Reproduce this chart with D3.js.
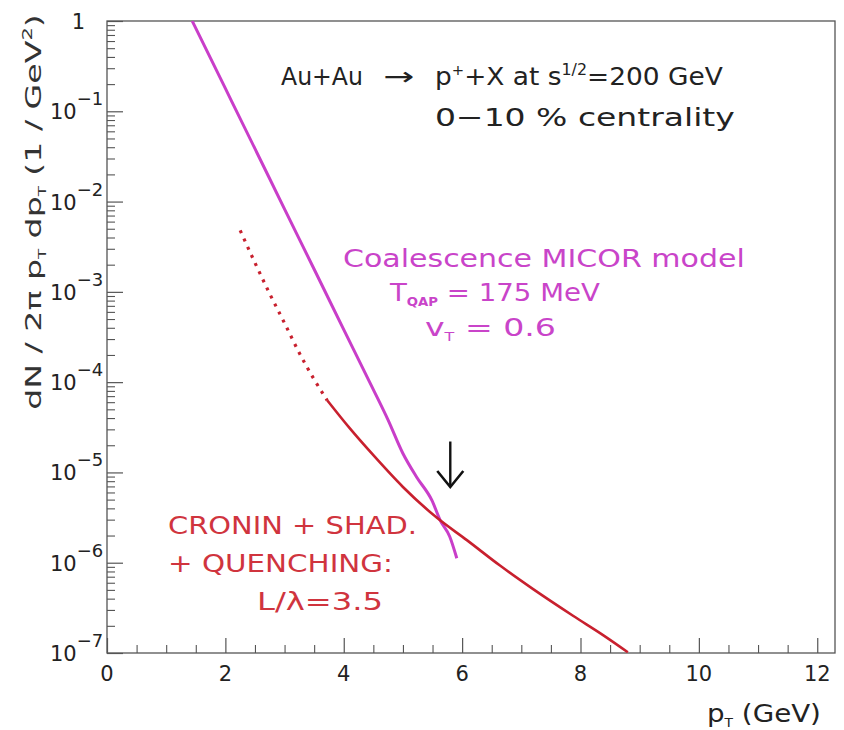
<!DOCTYPE html>
<html><head><meta charset="utf-8">
<script src="https://cdn.jsdelivr.net/npm/d3@7"></script>
<style>html,body{margin:0;padding:0;background:#fff;} svg{display:block;}</style>
</head><body>
<svg id="chart" width="844" height="730"></svg>
<script>
// ---- data ----
const xTicks = [0, 2, 4, 6, 8, 10, 12];
const xMinorTicks = [0.5,1,1.5,2.5,3,3.5,4.5,5,5.5,6.5,7,7.5,8.5,9,9.5,10.5,11,11.5];
const yTickExp = [0, -1, -2, -3, -4, -5, -6, -7];

// Coalescence MICOR model (magenta)
const coalPt = [1.44, 2.0, 2.5, 3.0, 3.5, 4.0, 4.4, 4.75, 5.0, 5.23, 5.49, 5.63, 5.79, 5.91];
const coalY  = [1.0, 0.179, 0.0385, 0.00826, 0.00178, 3.82e-4, 1.12e-4, 3.8e-5, 1.62e-5, 8.9e-6, 4.9e-6, 2.95e-6, 1.95e-6, 1.12e-6];

// Cronin + shad. + quenching (red), dotted part
const pqcdDotPt = [2.25, 2.5, 2.75, 3.0, 3.25, 3.5, 3.72];
const pqcdDotY  = [4.8e-3, 2.1e-3, 9.5e-4, 4.5e-4, 2.1e-4, 1.07e-4, 6.3e-5];
// solid part
const pqcdPt = [3.72, 4.1, 4.5, 5.0, 5.57, 6.08, 6.64, 7.2, 7.88, 8.4, 8.8];
const pqcdY  = [6.3e-5, 3.09e-5, 1.55e-5, 6.9e-6, 3.16e-6, 1.78e-6, 9.3e-7, 5.1e-7, 2.57e-7, 1.55e-7, 1.02e-7];

// arrow marker position (pT, value range)
const arrowPt = [5.8];
const arrowY = [2.2e-5, 6.9e-6];

// ---- layout ----
const L = 107, R = 835, T = 21, B = 653;
const svg = d3.select("#chart");
const x = d3.scaleLinear().domain([0, 12.3]).range([L, R]);
const y = d3.scaleLog().domain([1e-7, 1]).range([B, T]);

const FONT = "DejaVu Sans, Liberation Sans, sans-serif";
const MAG = "#c93ec9", MAGTXT = "#c944c9", RED = "#c8202e", REDTXT = "#d0343e";

svg.append("defs").append("clipPath").attr("id","clip")
  .append("rect").attr("x",L).attr("y",T).attr("width",R-L).attr("height",B-T);

// frame
svg.append("rect").attr("x",L).attr("y",T).attr("width",R-L).attr("height",B-T)
  .attr("fill","none").attr("stroke","#555").attr("stroke-width",1.3);

// y axis ticks
const yMinor = [];
for (let e = -7; e < 0; e++) for (let k = 2; k <= 9; k++) yMinor.push(k * Math.pow(10, e));
const yMaj = yTickExp.map(e => Math.pow(10, e));
svg.append("g").attr("transform",`translate(${L},0)`)
  .call(d3.axisLeft(y).tickValues(yMaj).tickSize(-16).tickFormat(""))
  .call(g => g.select(".domain").remove())
  .call(g => g.selectAll("line").attr("stroke","#555").attr("stroke-width",1.2));
svg.append("g").attr("transform",`translate(${L},0)`)
  .call(d3.axisLeft(y).tickValues(yMinor).tickSize(-8).tickFormat(""))
  .call(g => g.select(".domain").remove())
  .call(g => g.selectAll("line").attr("stroke","#555").attr("stroke-width",1.1));

// x axis ticks
svg.append("g").attr("transform",`translate(0,${B})`)
  .call(d3.axisBottom(x).tickValues(xTicks).tickSize(-15).tickFormat(""))
  .call(g => g.select(".domain").remove())
  .call(g => g.selectAll("line").attr("stroke","#555").attr("stroke-width",1.2));
svg.append("g").attr("transform",`translate(0,${B})`)
  .call(d3.axisBottom(x).tickValues(xMinorTicks).tickSize(-8).tickFormat(""))
  .call(g => g.select(".domain").remove())
  .call(g => g.selectAll("line").attr("stroke","#555").attr("stroke-width",1.1));

// x tick labels
svg.append("g").selectAll("text").data(xTicks).join("text")
  .attr("x", d => x(d)).attr("y", B + 28)
  .attr("text-anchor","middle").attr("font-family",FONT).attr("font-size",21).attr("fill","#222")
  .text(d => d);

// y tick labels
const yl = svg.append("g");
yTickExp.forEach(e => {
  if (e === 0) {
    yl.append("text").attr("x", 85).attr("y", y(1) + 8).attr("text-anchor","end")
      .attr("font-family",FONT).attr("font-size",21).attr("fill","#222").text("1");
  } else {
    const t = yl.append("text").attr("x", 50).attr("y", y(Math.pow(10,e)) + 8)
      .attr("font-family",FONT).attr("font-size",21).attr("fill","#222");
    t.append("tspan").text("10");
    t.append("tspan").attr("dy",-14).attr("font-size",18).text("\u2212" + (-e));
  }
});

// curves
const line = d3.line().x(d => x(d[0])).y(d => y(d[1])).curve(d3.curveMonotoneX);
const plot = svg.append("g").attr("clip-path","url(#clip)");
plot.append("path").datum(d3.zip(coalPt, coalY)).attr("d", line)
  .attr("fill","none").attr("stroke",MAG).attr("stroke-width",3);
plot.append("path").datum(d3.zip(pqcdDotPt, pqcdDotY)).attr("d", line)
  .attr("fill","none").attr("stroke",RED).attr("stroke-width",3.2).attr("stroke-dasharray","3,6");
plot.append("path").datum(d3.zip(pqcdPt, pqcdY)).attr("d", line)
  .attr("fill","none").attr("stroke",RED).attr("stroke-width",2.6);

// arrow
const ax = x(arrowPt[0]), ay0 = y(arrowY[0]), ay1 = y(arrowY[1]);
svg.append("path").attr("d", `M${ax},${ay0}L${ax},${ay1}`).attr("stroke","#111").attr("stroke-width",2.4).attr("fill","none");
svg.append("path").attr("d", `M${ax-13},${ay1-16}L${ax},${ay1}L${ax+13},${ay1-16}`)
  .attr("stroke","#111").attr("stroke-width",2.6).attr("fill","none").attr("stroke-linejoin","miter");

// text helper: stretch horizontally to target width
function txt(xp, yp, size, color, rot) {
  const t = svg.append("text").attr("x", 0).attr("y", 0).attr("font-family",FONT)
    .attr("font-size", size).attr("fill", color);
  t.datum({xp, yp, rot: rot || 0});
  return t;
}
function fit(t, w) {
  const d = t.datum();
  const cur = t.node().getComputedTextLength();
  const s = w / cur;
  if (d.rot) {
    t.attr("text-anchor","middle")
     .attr("transform", `translate(${d.xp},${d.yp}) rotate(${d.rot}) scale(${s.toFixed(3)},1)`);
  } else {
    t.attr("transform", `translate(${d.xp},${d.yp}) scale(${s.toFixed(3)},1)`);
  }
  return t;
}

// header
let t = txt(281, 85, 25, "#222").text("Au+Au"); fit(t, 82);
t = txt(383, 85, 25, "#222").text("\u2192"); fit(t, 31);
t = txt(435, 85, 25, "#222");
t.append("tspan").text("p");
t.append("tspan").attr("dy",-10).attr("font-size",14).text("+");
t.append("tspan").attr("dy",10).text("+X at s");
t.append("tspan").attr("dy",-10).attr("font-size",15).text("1/2");
t.append("tspan").attr("dy",10).text("=200 GeV");
fit(t, 288);
t = txt(435, 126, 25, "#222").text("0\u221210 % centrality"); fit(t, 300);

// magenta labels
t = txt(343, 267, 25, MAGTXT).text("Coalescence MICOR model"); fit(t, 402);
t = txt(390, 301, 25, MAGTXT);
t.append("tspan").text("T");
t.append("tspan").attr("dy",5).attr("font-size",12).attr("font-weight","bold").text("QAP");
t.append("tspan").attr("dy",-5).text(" = 175 MeV");
fit(t, 210);
t = txt(425, 336, 25, MAGTXT);
t.append("tspan").text("v");
t.append("tspan").attr("dy",5).attr("font-size",12).text("T");
t.append("tspan").attr("dy",-5).text(" = 0.6");
fit(t, 131);

// red labels
t = txt(168, 534, 25, REDTXT).text("CRONIN + SHAD."); fit(t, 249);
t = txt(168, 572, 25, REDTXT).text("+ QUENCHING:"); fit(t, 225);
t = txt(257, 610, 25, REDTXT).text("L/\u03bb=3.5"); fit(t, 126);

// x axis title
t = txt(707, 722, 24, "#222");
t.append("tspan").text("p");
t.append("tspan").attr("dy",5).attr("font-size",12).text("T");
t.append("tspan").attr("dy",-5).text(" (GeV)");
fit(t, 114);

// y axis title
t = txt(41, 212, 22, "#333", -90);
t.append("tspan").text("dN / 2\u03c0 p");
t.append("tspan").attr("dy",5).attr("font-size",11).text("T");
t.append("tspan").attr("dy",-5).text(" dp");
t.append("tspan").attr("dy",5).attr("font-size",11).text("T");
t.append("tspan").attr("dy",-5).text(" (1 / GeV");
t.append("tspan").attr("dy",-9).attr("font-size",14).text("2");
t.append("tspan").attr("dy",9).text(")");
fit(t, 396);
</script>
</body></html>
